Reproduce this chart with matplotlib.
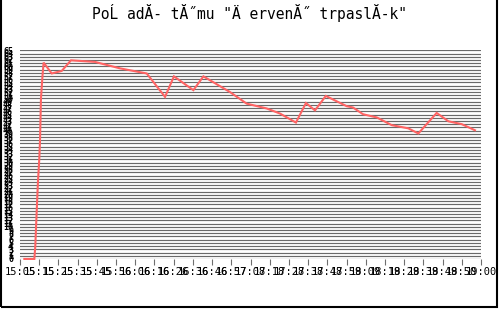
import matplotlib
matplotlib.use("Agg")
import matplotlib.pyplot as plt
from matplotlib.patches import Rectangle

# název grafu (tak, jak je vidět v obrázku)
title = 'PoĹ adĂ- tĂ˝mu "Ä ervenĂ˝ trpaslĂ-k"'

# časové popisky osy x (každých ~10 minut)
time_labels = ["15:05", "15:15", "15:25", "15:35", "15:45", "15:56", "16:06",
               "16:16", "16:26", "16:36", "16:46", "16:57", "17:08", "17:18",
               "17:28", "17:38", "17:48", "17:59", "18:09", "18:19", "18:29",
               "18:39", "18:49", "18:50", "19:00"]
tick_step = 10.17  # minut mezi popisky

# minuty od 15:05 a hodnota
minutes = [2.3, 7.6, 8.1, 8.5, 9.0, 9.5, 10.2, 10.6, 11.1, 11.9, 12.5,
           16.8, 22.1, 27.0, 39.7, 52.9, 67.1, 76.8, 81.5, 91.8, 97.1,
           111.2, 120.0, 130.6, 137.7, 146.1, 151.4, 156.2, 161.9, 173.0,
           176.3, 181.6, 188.9, 196.8, 205.6, 210.9, 220.6, 226.8, 233.9,
           240.9]
values = [0, 0, 4, 10, 17, 24, 31, 37, 50, 57, 61.2,
          57.8, 58.6, 61.9, 61.4, 59.4, 57.8, 50.5, 56.9, 52.6, 56.9,
          52.0, 48.4, 46.9, 45.3, 42.5, 48.6, 46.3, 50.8, 47.6,
          47.2, 45.1, 44.1, 41.7, 40.7, 39.1, 45.5, 42.9, 42.0,
          40.1]

y_max = 65

fig = plt.figure(figsize=(5, 3.09), dpi=100, facecolor="white")
ax = fig.add_axes([0.04, 0.162, 0.922, 0.675])

# vodorovná mřížka na každé hodnotě
for v in range(0, y_max + 1):
    ax.axhline(v, color="#6a6a6a", linewidth=0.85, zorder=1)

ax.plot(minutes, values, color="#ff6464", linewidth=1.5, zorder=3,
        solid_joinstyle="miter", clip_on=False)

ax.set_xlim(0, tick_step * (len(time_labels) - 1))
ax.set_ylim(0, y_max)

ax.set_xticks([i * tick_step for i in range(len(time_labels))])
ax.set_xticklabels(time_labels, family="DejaVu Sans Mono", fontsize=7.5)
ax.set_yticks(range(0, y_max + 1))
ax.set_yticklabels([str(v) for v in range(0, y_max + 1)],
                   family="DejaVu Sans Mono", fontsize=6, fontweight="bold")
ax.tick_params(axis="x", length=4, color="#6e6e6e", pad=2)
ax.tick_params(axis="y", length=0, pad=5)

for s in ax.spines.values():
    s.set_visible(False)

fig.text(0.5, 0.957, title, ha="center", va="center",
         family="DejaVu Sans Mono", fontsize=10.5)

# rámeček okolo obrázku
fig.patches.append(Rectangle((0.001, 0.006), 0.993, 1.2, transform=fig.transFigure,
                             fill=False, edgecolor="black", linewidth=1.5))

fig.savefig("out.png", dpi=100, facecolor="white")
